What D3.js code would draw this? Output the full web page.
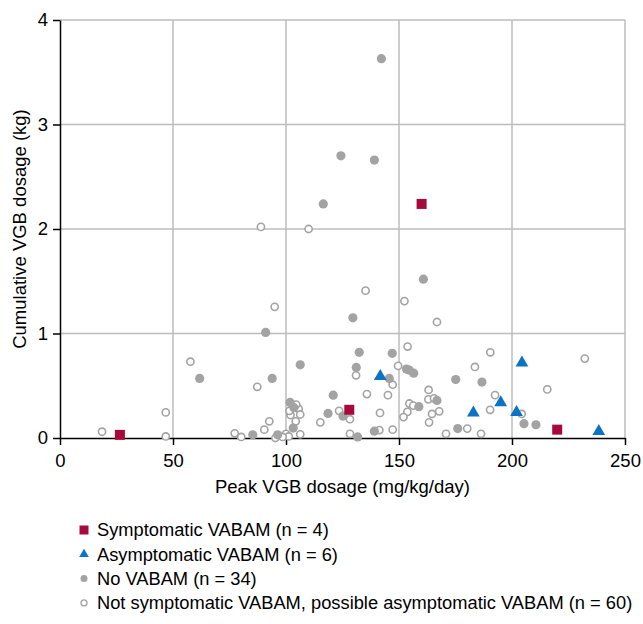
<!DOCTYPE html>
<html>
<head>
<meta charset="utf-8">
<script src="https://cdn.jsdelivr.net/npm/d3@7"></script>
<style>
  body { margin: 0; background: #fff; }
  svg { font-family: "Liberation Sans", Arial, sans-serif; }
</style>
</head>
<body>
<div id="chart"></div>
<script>
// peak dosage (mg/kg/day), cumulative dosage (kg)
const symptomatic = [
    [26.5, 0.03], [128, 0.27], [160, 2.24], [220, 0.08]
];
const asymptomatic = [
    [141.7, 0.59], [204.4, 0.72], [195, 0.34], [182.9, 0.24], [202, 0.245], [238.4, 0.063]
];
const noVabam = [
    [142.2, 3.63], [124.3, 2.70], [139.1, 2.66], [116.5, 2.24], [160.8, 1.52],
    [129.6, 1.15], [132.4, 0.82], [147, 0.81], [131.1, 0.675], [154.5, 0.65],
    [156.5, 0.62], [145.7, 0.57], [175.1, 0.56], [186.7, 0.535], [120.9, 0.41],
    [166.8, 0.36], [158.8, 0.30], [118.6, 0.235], [125.2, 0.21], [139.1, 0.065],
    [131.7, 0.01], [176, 0.09], [205.3, 0.137], [210.6, 0.127], [91, 1.01],
    [61.8, 0.57], [106.3, 0.70], [93.9, 0.57], [101.8, 0.34], [103.2, 0.095],
    [85.3, 0.03], [96.3, 0.03], [103.5, 0.29], [153.3, 0.66]
];
const notSymptomatic = [
    [88.9, 2.02], [110, 2.00], [95, 1.255], [57.7, 0.73], [87.3, 0.49],
    [46.8, 0.245], [18.6, 0.06], [46.8, 0.015], [92.6, 0.16], [90.4, 0.08],
    [77.3, 0.045], [80.2, 0.01], [95.3, 0.00], [100, 0.04], [101.2, 0.015],
    [106.3, 0.035], [102, 0.22], [103.2, 0.29], [105.6, 0.28], [106.3, 0.225],
    [104.3, 0.16], [115.2, 0.15], [135.2, 1.41], [152.4, 1.31], [166.8, 1.11],
    [153.8, 0.875], [190.4, 0.82], [232.2, 0.76], [149.6, 0.69], [183.6, 0.68],
    [131, 0.60], [147.2, 0.51], [215.6, 0.465], [163.1, 0.46], [192.5, 0.41],
    [135.8, 0.42], [145.1, 0.41], [163, 0.37], [165.5, 0.38], [154.6, 0.33],
    [156.3, 0.31], [190.3, 0.27], [123.5, 0.26], [167.8, 0.255], [153.7, 0.25],
    [141.6, 0.24], [164.6, 0.23], [152, 0.20], [204.3, 0.23], [128.3, 0.18],
    [163.3, 0.15], [141.3, 0.076], [147.2, 0.08], [180.2, 0.09], [128.3, 0.04],
    [170.8, 0.04], [186.3, 0.04], [101.5, 0.26], [98.5, 0.01], [104.5, 0.32]
];

const xTicks = [0, 50, 100, 150, 200, 250];
const yTicks = [0, 1, 2, 3, 4];
const legendLabels = [
    "Symptomatic VABAM (n = 4)",
    "Asymptomatic VABAM (n = 6)",
    "No VABAM (n = 34)",
    "Not symptomatic VABAM, possible asymptomatic VABAM (n = 60)"
];

const width = 643, height = 624;
const marginLeft = 60, marginTop = 20, plotW = 565, plotH = 418;

const red = "#a8093c", blue = "#0b72c4", grey = "#a3a3a3", gridColor = "#bdbdbd";

const x = d3.scaleLinear([0, 250], [marginLeft, marginLeft + plotW]);
const y = d3.scaleLinear([0, 4], [marginTop + plotH, marginTop]);

const svg = d3.select("#chart").append("svg")
    .attr("width", width)
    .attr("height", height)
    .attr("viewBox", [0, 0, width, height]);

// grid
svg.append("g")
    .attr("stroke", gridColor)
    .attr("stroke-width", 1.5)
    .call(g => g.selectAll("line.v")
        .data(xTicks.slice(1))
        .join("line")
        .attr("x1", d => x(d)).attr("x2", d => x(d))
        .attr("y1", y(0)).attr("y2", y(4)))
    .call(g => g.selectAll("line.h")
        .data(yTicks.slice(1))
        .join("line")
        .attr("class", "h")
        .attr("x1", x(0)).attr("x2", x(250))
        .attr("y1", d => y(d)).attr("y2", d => y(d)));

// axes
svg.append("g")
    .attr("transform", `translate(0,${y(0)})`)
    .call(d3.axisBottom(x).tickValues(xTicks).tickSize(7).tickPadding(9).tickSizeOuter(0))
    .call(g => g.select(".domain").attr("stroke", "#000").attr("stroke-width", 1.5))
    .call(g => g.selectAll(".tick line").attr("stroke", "#000").attr("stroke-width", 1.5))
    .call(g => g.selectAll(".tick text").attr("font-size", 18.5).attr("fill", "#000"));

svg.append("g")
    .attr("transform", `translate(${x(0)},0)`)
    .call(d3.axisLeft(y).tickValues(yTicks).tickFormat(d3.format("d")).tickSize(7).tickPadding(5).tickSizeOuter(0))
    .call(g => g.select(".domain").attr("stroke", "#000").attr("stroke-width", 1.5))
    .call(g => g.selectAll(".tick line").attr("stroke", "#000").attr("stroke-width", 1.5))
    .call(g => g.selectAll(".tick text").attr("font-size", 18.5).attr("fill", "#000"));

svg.append("text")
    .attr("x", x(125))
    .attr("y", 493)
    .attr("text-anchor", "middle")
    .attr("font-size", 18.5)
    .text("Peak VGB dosage (mg/kg/day)");

svg.append("text")
    .attr("transform", `translate(26,${y(2)}) rotate(-90)`)
    .attr("text-anchor", "middle")
    .attr("font-size", 18.5)
    .text("Cumulative VGB dosage (kg)");

// points
const pts = svg.append("g");

pts.append("g")
    .selectAll("circle")
    .data(notSymptomatic)
    .join("circle")
    .attr("cx", d => x(d[0]))
    .attr("cy", d => y(d[1]))
    .attr("r", 3.6)
    .attr("fill", "#fff")
    .attr("stroke", grey)
    .attr("stroke-width", 1.6);

pts.append("g")
    .selectAll("circle")
    .data(noVabam)
    .join("circle")
    .attr("cx", d => x(d[0]))
    .attr("cy", d => y(d[1]))
    .attr("r", 4.6)
    .attr("fill", grey);

pts.append("g")
    .selectAll("path")
    .data(asymptomatic)
    .join("path")
    .attr("transform", d => `translate(${x(d[0])},${y(d[1])})`)
    .attr("d", d3.symbol(d3.symbolTriangle, 70))
    .attr("fill", blue);

pts.append("g")
    .selectAll("rect")
    .data(symptomatic)
    .join("rect")
    .attr("x", d => x(d[0]) - 5)
    .attr("y", d => y(d[1]) - 5)
    .attr("width", 10)
    .attr("height", 10)
    .attr("fill", red);

// legend
const legend = svg.append("g")
    .attr("font-size", 18.3)
    .selectAll("g")
    .data(legendLabels)
    .join("g")
    .attr("transform", (d, i) => `translate(84,${530 + i * 24.3})`);

legend.append("text")
    .attr("x", 13)
    .attr("dy", "0.35em")
    .text(d => d);

legend.filter((d, i) => i === 0).append("rect")
    .attr("x", -4.5).attr("y", -4.5).attr("width", 9).attr("height", 9)
    .attr("fill", red);
legend.filter((d, i) => i === 1).append("path")
    .attr("d", d3.symbol(d3.symbolTriangle, 40))
    .attr("fill", blue);
legend.filter((d, i) => i === 2).append("circle")
    .attr("r", 3.5).attr("fill", grey);
legend.filter((d, i) => i === 3).append("circle")
    .attr("r", 3).attr("fill", "#fff").attr("stroke", grey).attr("stroke-width", 1.3);
</script>
</body>
</html>
